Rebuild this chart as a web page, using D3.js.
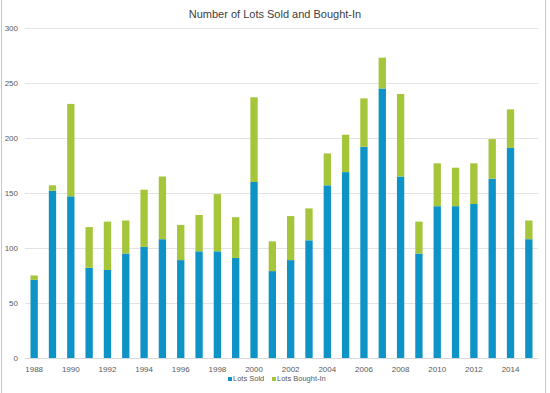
<!DOCTYPE html>
<html>
<head>
<meta charset="utf-8">
<script src="https://cdn.jsdelivr.net/npm/d3@7"></script>
<style>
  body { margin: 0; background: #fff; }
  text { font-family: "Liberation Sans", Arial, sans-serif; }
</style>
</head>
<body>
<div id="chart"></div>
<script>
// data
var years = ["1988","1989","1990","1991","1992","1993","1994","1995","1996","1997",
  "1998","1999","2000","2001","2002","2003","2004","2005","2006","2007",
  "2008","2009","2010","2011","2012","2013","2014","2015"];
var lotsSold = [71,152,147,82,80,95,101,108,89,97,97,91,160,79,89,107,157,169,192,245,165,95,138,138,140,163,191,108];
var lotsBoughtIn = [4,5,84,37,44,30,52,57,32,33,52,37,77,27,40,29,29,34,44,28,75,29,39,35,37,36,35,17];
var yTicks = [0,50,100,150,200,250,300];
var seriesNames = ["Lots Sold","Lots Bought-In"];
var colours = ["#0e93c6","#a5c63b"];

var width = 550, height = 393;
var margin = { top: 28, right: 12, bottom: 35, left: 25 };

var svg = d3.select("#chart").append("svg").attr("width", width).attr("height", height);

// chart frame
svg.append("line").attr("x1", 1.5).attr("x2", 1.5).attr("y1", 0).attr("y2", height)
  .attr("stroke", "#c8c8c8");
svg.append("line").attr("x1", 545.5).attr("x2", 545.5).attr("y1", 0).attr("y2", height)
  .attr("stroke", "#c8c8c8");

var xScale = d3.scaleBand()
    .domain(years)
    .range([margin.left, width - margin.right])
    .paddingInner(0.6)
    .paddingOuter(0.3);
var yScale = d3.scaleLinear()
    .domain([0, 300])
    .range([height - margin.bottom, margin.top]);

// gridlines
svg.append("g")
  .selectAll("line")
  .data(yTicks)
  .join("line")
  .attr("x1", margin.left)
  .attr("x2", width - margin.right)
  .attr("y1", function(d) { return Math.round(yScale(d)) + 0.5; })
  .attr("y2", function(d) { return Math.round(yScale(d)) + 0.5; })
  .attr("stroke", "#e3e3e3");

// y axis labels
var yAxis = svg.append("g")
  .attr("transform", "translate(" + margin.left + ",0)")
  .call(d3.axisLeft(yScale).tickValues(yTicks).tickSize(0).tickPadding(7));
yAxis.select(".domain").remove();
yAxis.selectAll("text").attr("fill", "#595959").style("font-size", "8px");

// stacked bars
var table = years.map(function(y, i) {
  return { year: y, sold: lotsSold[i], bought: lotsBoughtIn[i] };
});
var stack = d3.stack().keys(["sold", "bought"]);
var layers = stack(table);

svg.append("g")
  .selectAll("g")
  .data(layers)
  .join("g")
  .attr("fill", function(d, i) { return colours[i]; })
  .selectAll("rect")
  .data(function(d) { return d; })
  .join("rect")
  .attr("x", function(d) { return xScale(d.data.year); })
  .attr("width", xScale.bandwidth())
  .attr("y", function(d) { return yScale(d[1]); })
  .attr("height", function(d) { return yScale(d[0]) - yScale(d[1]); });

// x axis line
svg.append("line")
  .attr("x1", margin.left).attr("x2", width - margin.right)
  .attr("y1", Math.round(yScale(0)) + 0.5).attr("y2", Math.round(yScale(0)) + 0.5)
  .attr("stroke", "#d9d9d9");

// x axis labels, every other year
var xAxis = svg.append("g")
  .attr("transform", "translate(0," + yScale(0) + ")")
  .call(d3.axisBottom(xScale)
    .tickValues(years.filter(function(d, i) { return i % 2 === 0; }))
    .tickSize(0).tickPadding(8));
xAxis.select(".domain").remove();
xAxis.selectAll("text").attr("fill", "#595959").style("font-size", "8px");

// title
svg.append("text")
  .attr("x", 275).attr("y", 17.5)
  .attr("text-anchor", "middle")
  .attr("fill", "#404040")
  .style("font-size", "11px")
  .text("Number of Lots Sold and Bought-In");

// legend
var legend = svg.append("g").attr("transform", "translate(228,381)");
var legX = [0, 44];
seriesNames.forEach(function(name, i) {
  legend.append("rect")
    .attr("x", legX[i]).attr("y", -4)
    .attr("width", 4).attr("height", 4)
    .attr("fill", colours[i]);
  legend.append("text")
    .attr("x", legX[i] + 5).attr("y", 0)
    .attr("fill", "#595959")
    .style("font-size", "7.5px")
    .text(name);
});
</script>
</body>
</html>
